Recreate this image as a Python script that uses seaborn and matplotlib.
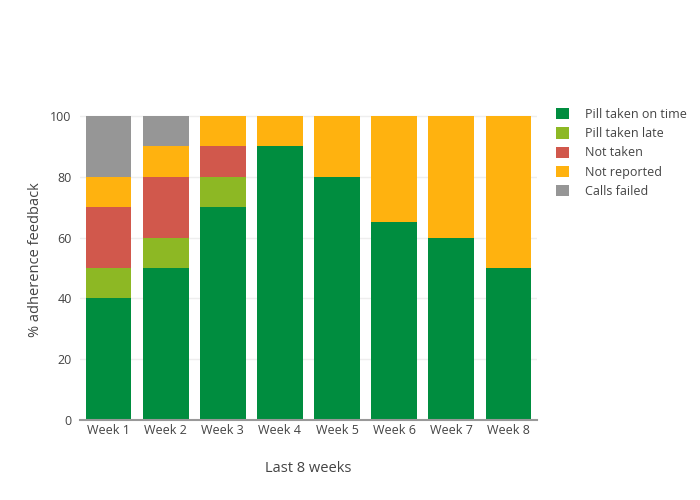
import numpy as np
import pandas as pd
import matplotlib
matplotlib.use('Agg')
import matplotlib.pyplot as plt
import seaborn as sns

weeks = ['Week 1', 'Week 2', 'Week 3', 'Week 4', 'Week 5', 'Week 6', 'Week 7', 'Week 8']
on_time = [40, 50, 70, 90, 80, 65, 60, 50]
late = [10, 10, 10, 0, 0, 0, 0, 0]
not_taken = [20, 20, 10, 0, 0, 0, 0, 0]
not_reported = [10, 10, 10, 10, 20, 35, 40, 50]
calls_failed = [20, 10, 0, 0, 0, 0, 0, 0]

series = ['Pill taken on time', 'Pill taken late', 'Not taken', 'Not reported', 'Calls failed']
colors = ['#008d3f', '#8db824', '#d1584c', '#ffb20f', '#969696']

sns.set_style('white')
plt.rcParams['font.family'] = ['Open Sans', 'DejaVu Sans']
text_col = '#444444'

df = pd.DataFrame({'Week': weeks, series[0]: on_time, series[1]: late,
                   series[2]: not_taken, series[3]: not_reported, series[4]: calls_failed})
# cumulative totals, drawn biggest first so each layer sits on the previous one
cum = df[series].cumsum(axis=1)
cum['Week'] = weeks

fig = plt.figure(figsize=(7, 5), dpi=100)
ax = fig.add_axes([80 / 700, 80 / 500, 457 / 700, 320 / 500])

for name, col in reversed(list(zip(series, colors))):
    sns.barplot(data=cum, x='Week', y=name, color=col, width=0.8,
                saturation=1, ax=ax, label=name, linewidth=0, edgecolor='none')

ax.set_ylim(0, 105.26)
ax.set_xlim(-0.5, 7.5)
ax.set_yticks([0, 20, 40, 60, 80, 100])
ax.yaxis.grid(True, color='#eeeeee', linewidth=1)
ax.set_axisbelow(True)
for s in ['top', 'right', 'left']:
    ax.spines[s].set_visible(False)
ax.spines['bottom'].set_color('#999999')
ax.spines['bottom'].set_linewidth(1.5)
ax.tick_params(axis='y', length=0, labelsize=9, labelcolor=text_col, pad=6)
ax.tick_params(axis='x', length=0, labelsize=9, labelcolor=text_col, pad=3)
ax.set_xlabel('Last 8 weeks', fontsize=10.5, color=text_col, labelpad=17)
ax.set_ylabel('% adherence feedback', fontsize=10.5, color=text_col, labelpad=5)

handles, labels = ax.get_legend_handles_labels()
order = [labels.index(s) for s in series]
leg = ax.legend([handles[i] for i in order], [labels[i] for i in order],
                loc='upper left', bbox_to_anchor=(556 / 700, 1 - 108 / 500),
                bbox_transform=fig.transFigure, frameon=False, fontsize=9,
                handlelength=1.0, handleheight=1.0, labelspacing=0.5, handletextpad=1.3,
                borderaxespad=0, borderpad=0)
for t in leg.get_texts():
    t.set_color(text_col)

fig.savefig('out.png', dpi=100)
